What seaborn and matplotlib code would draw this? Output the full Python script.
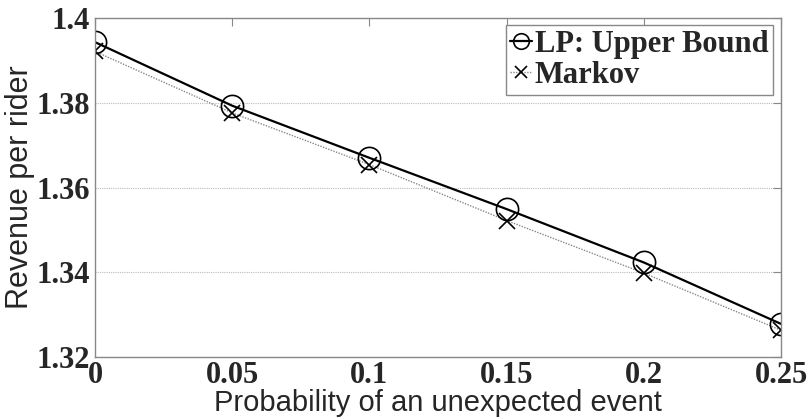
import matplotlib
matplotlib.use("Agg")
import matplotlib.pyplot as plt
import seaborn as sns
import pandas as pd

prob = [0.0, 0.05, 0.10, 0.15, 0.20, 0.25]
lp_upper = [1.3943, 1.3793, 1.3670, 1.3549, 1.3423, 1.3278]
markov = [1.3921, 1.3776, 1.3654, 1.3522, 1.3398, 1.3263]
series_names = ["LP: Upper Bound", "Markov"]
xticks = [0, 0.05, 0.1, 0.15, 0.2, 0.25]
xtick_labels = ["0", "0.05", "0.1", "0.15", "0.2", "0.25"]
yticks = [1.32, 1.34, 1.36, 1.38, 1.4]
ytick_labels = ["1.32", "1.34", "1.36", "1.38", "1.4"]

df_lp = pd.DataFrame({"p": prob, "rev": lp_upper})
df_mk = pd.DataFrame({"p": prob, "rev": markov})

sns.set_style("white")
plt.rcParams["font.family"] = ["Liberation Serif", "DejaVu Serif"]

fig = plt.figure(figsize=(8.09, 4.19), dpi=100)
ax = fig.add_axes([0.1175, 0.148, 0.848, 0.809])

sns.lineplot(data=df_mk, x="p", y="rev", ax=ax, color="#888888", lw=1.0,
             linestyle=(0, (1, 1)), marker="x", markersize=12,
             markeredgecolor="black", markeredgewidth=1.2,
             label=series_names[1])
sns.lineplot(data=df_lp, x="p", y="rev", ax=ax, color="black", lw=1.6,
             marker="o", markersize=16, markerfacecolor="none",
             markeredgecolor="black", markeredgewidth=1.2,
             label=series_names[0])

ax.set_xlim(0, 0.25)
ax.set_ylim(1.32, 1.4)
ax.set_xticks(xticks)
ax.set_xticklabels(xtick_labels, fontsize=22, fontweight="bold")
ax.set_yticks(yticks)
ax.set_yticklabels(ytick_labels, fontsize=22, fontweight="bold")
ax.tick_params(direction="in", length=6, color="#888888", top=True, right=True)
ax.tick_params(axis="y", pad=4)
ax.tick_params(axis="x", pad=3)

ax.yaxis.grid(True, color="#bbbbbb", linestyle=(0, (1, 1)), lw=0.8)
ax.xaxis.grid(False)
for s in ax.spines.values():
    s.set_color("#888888")
    s.set_linewidth(1.0)

ax.set_xlabel("Probability of an unexpected event",
              family=["Liberation Sans", "DejaVu Sans"], fontsize=21, labelpad=-1)
ax.set_ylabel("Revenue per rider",
              family=["Liberation Sans", "DejaVu Sans"], fontsize=22, labelpad=1)

handles, labels = ax.get_legend_handles_labels()
order = [labels.index(series_names[0]), labels.index(series_names[1])]
leg = ax.legend([handles[i] for i in order], [labels[i] for i in order],
                loc="upper right", bbox_to_anchor=(0.997, 0.997),
                prop={"family": "Liberation Serif", "weight": "bold", "size": 22},
                handlelength=0.7, handletextpad=0.1, borderpad=0.15,
                labelspacing=0.08, fancybox=False, framealpha=1,
                borderaxespad=0.2, markerscale=0.7)
leg.get_frame().set_edgecolor("#888888")
leg.get_frame().set_linewidth(1.0)

fig.savefig("out.png", dpi=100)
